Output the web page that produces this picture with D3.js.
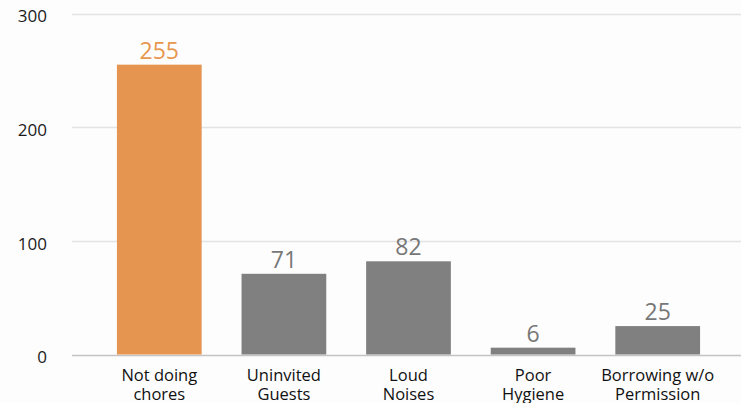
<!DOCTYPE html>
<html>
<head>
<meta charset="utf-8">
<script src="https://cdn.jsdelivr.net/npm/d3@7/dist/d3.min.js"></script>
<style>
  html, body { margin: 0; padding: 0; background: #fdfdfd; }
  svg { display: block; }
  text { font-family: "Open Sans", Roboto, sans-serif; }
</style>
</head>
<body>
<svg id="chart" width="741" height="403"></svg>
<script>
// Roommate complaints, counts per category
const categories = [["Not doing", "chores"], ["Uninvited", "Guests"], ["Loud", "Noises"], ["Poor", "Hygiene"], ["Borrowing w/o", "Permission"]];
const counts = [255, 71, 82, 6, 25];
const highlighted = [true, false, false, false, false];
const yTicks = [0, 100, 200, 300];

const svg = d3.select("#chart");

const x = d3.scaleBand()
  .domain(d3.range(categories.length))
  .range([97, 720])
  .paddingInner(0.32)
  .paddingOuter(0.16);

const y = d3.scaleLinear().domain([0, 300]).range([354.5, 13.5]);

// gridlines
svg.append("g").selectAll("line")
  .data(yTicks)
  .join("line")
  .attr("x1", 72).attr("x2", 741)
  .attr("y1", d => Math.round(y(d)) + 0.5).attr("y2", d => Math.round(y(d)) + 0.5)
  .attr("stroke", d => d === 0 ? "#c4c4c4" : "#e3e3e3")
  .attr("stroke-width", 1.5);

// y axis labels
const yAxis = d3.axisLeft(y).tickValues(yTicks).tickSize(0).tickPadding(0);
svg.append("g")
  .attr("transform", "translate(47,3)")
  .call(yAxis)
  .call(g => g.select(".domain").remove())
  .call(g => g.selectAll("text")
    .attr("font-size", 17)
    .attr("fill", "#1a1a1a")
    .attr("font-family", "'Open Sans', Roboto, sans-serif"));

// bars
svg.append("g").selectAll("rect")
  .data(counts)
  .join("rect")
  .attr("x", (d, i) => x(i))
  .attr("width", x.bandwidth())
  .attr("y", d => y(d))
  .attr("height", d => y(0) - y(d))
  .attr("fill", (d, i) => highlighted[i] ? "#e5954f" : "#808080");

// value labels
svg.append("g").selectAll("text")
  .data(counts)
  .join("text")
  .attr("x", (d, i) => x(i) + x.bandwidth() / 2)
  .attr("y", d => y(d) - 6)
  .attr("text-anchor", "middle")
  .attr("font-size", 23)
  .attr("fill", (d, i) => highlighted[i] ? "#e8974f" : "#777777")
  .text(d => d);

// category labels
const cat = svg.append("g").selectAll("text")
  .data(categories)
  .join("text")
  .attr("x", (d, i) => x(i) + x.bandwidth() / 2)
  .attr("y", 381)
  .attr("text-anchor", "middle")
  .attr("font-size", 16.5)
  .attr("fill", "#111");
cat.selectAll("tspan")
  .data(d => d)
  .join("tspan")
  .attr("x", function () { return d3.select(this.parentNode).attr("x"); })
  .attr("dy", (d, j) => j === 0 ? 0 : 19)
  .text(d => d);
</script>
</body>
</html>
